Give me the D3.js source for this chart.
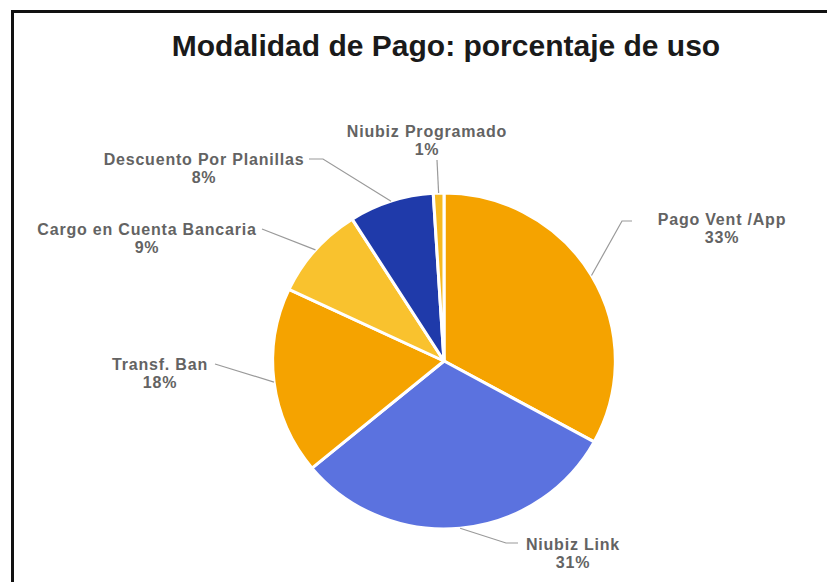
<!DOCTYPE html>
<html><head><meta charset="utf-8">
<script src="https://cdn.jsdelivr.net/npm/d3@7"></script>
<style>body{margin:0;background:#fff}svg{display:block}</style>
</head><body>
<svg id="c" width="827" height="582"></svg>
<script>
const categories = ["Pago Vent /App","Niubiz Link","Transf. Ban","Cargo en Cuenta Bancaria","Descuento Por Planillas","Niubiz Programado"];
const values = [33,31,18,9,8,1];
const colors = ["#F5A300","#5B72DF","#F5A300","#F9C22E","#1F3AAA","#F6BA22"];
const title = "Modalidad de Pago: porcentaje de uso";
// label layout (centre x, first baseline y, line end x, line end y, elbow dx)
const labelLayout = [
  {x:722,y:225,ex:632,ey:221,el:-10},
  {x:573,y:550,ex:518,ey:543,el:-12},
  {x:160,y:370,ex:215,ey:364,el:0},
  {x:147,y:235,ex:262,ey:229,el:0},
  {x:204,y:165,ex:309,ey:159,el:14},
  {x:427,y:137,ex:437,ey:160,el:0}
];

const svg = d3.select("#c");
const cx = 444, cy = 361, R = 168, sx = 1.02;

// frame
svg.append("path").attr("d","M12.5,582 L12.5,11.5 L827,11.5")
  .attr("fill","none").attr("stroke","#111").attr("stroke-width",3);

svg.append("text").attr("x",446).attr("y",56).attr("text-anchor","middle")
  .attr("font-family","Liberation Sans, Arial, sans-serif").attr("font-weight","bold")
  .attr("font-size",30).attr("fill","#1a1a1a").text(title);

const data = categories.map((c,i)=>({c, v:values[i], i}));
const pie = d3.pie().value(d=>d.v).sort(null);
const arcs = pie(data);
const arc = d3.arc().innerRadius(0).outerRadius(R);
const g = svg.append("g").attr("transform",`translate(${cx},${cy}) scale(${sx},1)`);
g.selectAll("path").data(arcs).join("path")
  .attr("d",arc).attr("fill",d=>colors[d.data.i])
  .attr("stroke","#fff").attr("stroke-width",3).attr("stroke-linejoin","round");

// leader lines + labels
arcs.forEach(a=>{
  const L = labelLayout[a.data.i];
  const mid = (a.startAngle+a.endAngle)/2;
  const px = cx + sx*R*Math.sin(mid), py = cy - R*Math.cos(mid);
  const pts = [[px,py],[L.ex+L.el,L.ey],[L.ex,L.ey]];
  svg.append("path").attr("d",d3.line()(pts)).attr("fill","none")
    .attr("stroke","#9a9a9a").attr("stroke-width",1.2);
  const t = svg.append("text").attr("text-anchor","middle")
    .attr("font-family","Liberation Sans, Arial, sans-serif").attr("font-weight","bold")
    .attr("font-size",16).attr("letter-spacing",0.8).attr("fill","#636363");
  t.append("tspan").attr("x",L.x).attr("y",L.y).text(a.data.c);
  t.append("tspan").attr("x",L.x).attr("y",L.y+18).text(a.data.v+"%");
});
</script>
</body></html>
